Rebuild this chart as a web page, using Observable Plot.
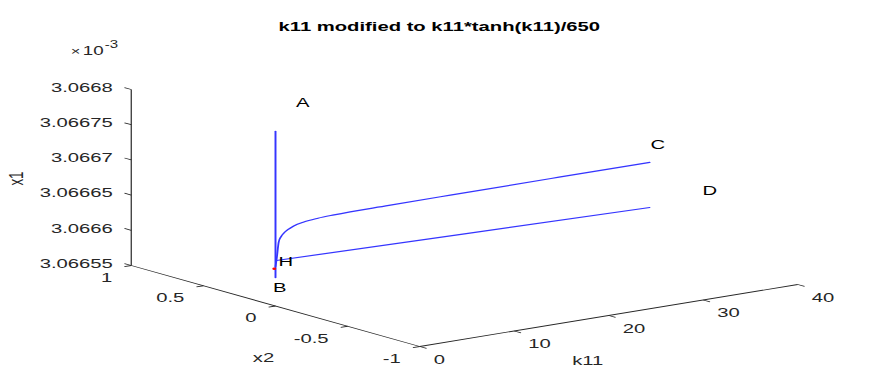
<!DOCTYPE html>
<html>
<head>
<meta charset="utf-8">
<script src="https://cdn.jsdelivr.net/npm/d3@7"></script>
<script src="https://cdn.jsdelivr.net/npm/@observablehq/plot@0.6"></script>
<style>
html, body { margin: 0; padding: 0; background: #fff; }
#chart svg { display: block; }
</style>
</head>
<body>
<div id="chart"></div>
<script>
// ---------- data ----------
const titleText = "k11 modified to k11*tanh(k11)/650";
const k11Domain = [0, 40];
const x2Domain = [-1, 1];
const x1Domain = [3.06655, 3.0668];           // in units of 1e-3
const k11Ticks = [0, 10, 20, 30, 40];
const k11TickLabels = ["0", "10", "20", "30", "40"];
const x2Ticks = [1, 0.5, 0, -0.5, -1];
const x2TickLabels = ["1", "0.5", "0", "-0.5", "-1"];
const x1Ticks = [3.06655, 3.0666, 3.06665, 3.0667, 3.06675, 3.0668];
const x1TickLabels = ["3.06655", "3.0666", "3.06665", "3.0667", "3.06675", "3.0668"];
const axisNames = ["k11", "x2", "x1"];
const exponentBase = "10";
const exponentPower = "-3";

// branch A–B (vertical)
const branchAB_k11 = [0, 0];
const branchAB_x2 = [0, 0];
const branchAB_x1 = [3.0667979, 3.0665905];

// branch towards C
const branchC_k11 = [0, 0.13, 0.34, 0.6, 0.87, 1.3, 1.93, 3.0, 4.5, 6.2, 12, 18.5, 30, 39.6];
const branchC_x2  = [0, 0, 0, 0, 0, 0, 0, 0, 0, 0, 0, 0, 0, 0];
const branchC_x1  = [3.0666061, 3.0666172, 3.0666400, 3.0666475, 3.0666515, 3.0666555, 3.0666595,
                     3.0666628, 3.0666648, 3.0666658, 3.0666665, 3.0666668, 3.0666669, 3.0666668];

// branch H–D
const branchD_k11 = [0.1, 20, 39.6];
const branchD_x2  = [0, 0, 0];
const branchD_x1  = [3.0666144, 3.0666085, 3.0666027];

// special point H
const hopfK11 = [-0.13];
const hopfX2 = [0];
const hopfX1 = [3.0666033];

// point labels
const labelNames = ["A", "B", "C", "D", "H"];
const labelK11 = [2.88, 0.45, 40.45, 45.95, 1.085];
const labelX2 = [0, 0, 0, 0, 0];
const labelX1 = [3.0668327, 3.0665753, 3.0666903, 3.0666129, 3.0666108];

// ---------- 3-D view ----------
const S = 1.5;               // horizontal stretch of the original figure
const W = 877 / S, H = 388;
const view = {k11: [378, 62], x2: [-288.5, 81], x1: [0, 176]};
const norm = (v, d) => (v - d[0]) / (d[1] - d[0]);
function proj(k, x2, x1) {
  const kn = norm(k, k11Domain), xn = norm(x2, x2Domain), zn = norm(x1, x1Domain);
  return {
    u: view.k11[0] * kn + view.x2[0] * xn + view.x1[0] * zn,
    v: view.k11[1] * kn + view.x2[1] * xn + view.x1[1] * zn
  };
}
const series = (ks, xs, zs, name) => ks.map((k, i) => ({...proj(k, xs[i], zs[i]), name}));

const zMin = x1Domain[0], zMax = x1Domain[1];
const seg = (a, b) => { const p = proj(...a), q = proj(...b); return {u1: p.u, v1: p.v, u2: q.u, v2: q.v}; };
const axisSegs = [
  seg([k11Domain[0], x2Domain[1], zMin], [k11Domain[0], x2Domain[1], zMax]),
  seg([k11Domain[0], x2Domain[1], zMin], [k11Domain[0], x2Domain[0], zMin]),
  seg([k11Domain[0], x2Domain[0], zMin], [k11Domain[1], x2Domain[0], zMin])
];
const tickX2Len = 0.047, tickK11Len = 0.73;
const tickSegs = [
  ...x1Ticks.map(z => seg([0, 1, z], [0, 1 + tickX2Len, z])),
  ...x2Ticks.map(x => seg([0, x, zMin], [-tickK11Len, x, zMin])),
  ...k11Ticks.map(k => seg([k, -1, zMin], [k, -1 - tickX2Len, zMin]))
];
const zLabels = x1Ticks.map((z, i) => ({...proj(0, 1, z), t: x1TickLabels[i]}));
const x2Labels = x2Ticks.map((x, i) => ({...proj(0, x, zMin), t: x2TickLabels[i]}));
const kLabels = k11Ticks.map((k, i) => ({...proj(k, -1, zMin), t: k11TickLabels[i]}));
const zTop = proj(0, 1, zMax);
const zMid = proj(0, 1, (zMin + zMax) / 2);
const x2Mid = proj(0, 0, zMin);
const kMid = proj(20, -1, zMin);

const ab = series(branchAB_k11, branchAB_x2, branchAB_x1, "AB");
const bc = series(branchC_k11, branchC_x2, branchC_x1, "C");
const bd = series(branchD_k11, branchD_x2, branchD_x1, "D");
const hp = series(hopfK11, hopfX2, hopfX1, "H");
const pl = labelNames.map((n, i) => ({...proj(labelK11[i], labelX2[i], labelX1[i]), t: n}));

const ink = "#262626";
const blue = "#3535ff";
const fam = "'Liberation Sans', Arial, Helvetica, sans-serif";

const svg = Plot.plot({
  width: W, height: H,
  marginLeft: 0, marginRight: 0, marginTop: 0, marginBottom: 0,
  x: {type: "linear", domain: [-419, 458], range: [0, W], axis: null},
  y: {type: "linear", domain: [-42, 346], range: [H, 0], axis: null},
  style: {fontFamily: fam, background: "white", overflow: "visible"},
  marks: [
    Plot.link(axisSegs, {x1: "u1", y1: "v1", x2: "u2", y2: "v2", stroke: ink, strokeWidth: 0.8}),
    Plot.link(tickSegs, {x1: "u1", y1: "v1", x2: "u2", y2: "v2", stroke: ink, strokeWidth: 0.8}),
    Plot.text(zLabels, {x: "u", y: "v", text: "t", textAnchor: "end", dx: -18.5 / S, dy: -2, fontSize: 13.5, fill: ink}),
    Plot.text(x2Labels, {x: "u", y: "v", text: "t", textAnchor: "end", dx: -19 / S, dy: 12, fontSize: 13.5, fill: ink}),
    Plot.text(kLabels, {x: "u", y: "v", text: "t", textAnchor: "start", dx: 14 / S, dy: 13, fontSize: 13.5, fill: ink}),
    Plot.text([zTop], {x: "u", y: "v", text: () => "\u00d7", textAnchor: "start", dx: (70 - 130.5) / S, dy: -38.5, fontSize: 11, fill: ink}),
    Plot.text([zTop], {x: "u", y: "v", text: () => exponentBase, textAnchor: "start", dx: (82 - 130.5) / S, dy: -38.5, fontSize: 12.5, fill: ink}),
    Plot.text([zTop], {x: "u", y: "v", text: () => exponentPower, textAnchor: "start", dx: (104 - 130.5) / S, dy: -44.5, fontSize: 10, fill: ink}),
    Plot.text([zMid], {x: "u", y: "v", text: () => axisNames[2], rotate: -90, dx: -114.5 / S, dy: 1, fontSize: 13.5, fill: ink}),
    Plot.text([x2Mid], {x: "u", y: "v", text: () => axisNames[1], dx: -12 / S, dy: 51.5, fontSize: 13.5, fill: ink}),
    Plot.text([kMid], {x: "u", y: "v", text: () => axisNames[0], dx: -21 / S, dy: 45.5, fontSize: 13.5, fill: ink}),
    Plot.line(ab, {x: "u", y: "v", stroke: blue, strokeWidth: 1.3}),
    Plot.line(bc, {x: "u", y: "v", stroke: blue, strokeWidth: 1.2, curve: "monotone-x"}),
    Plot.line(bd, {x: "u", y: "v", stroke: blue, strokeWidth: 1.2}),
    Plot.dot(hp, {x: "u", y: "v", r: 1.3, fill: "red", stroke: "none"}),
    Plot.text(pl, {x: "u", y: "v", text: "t", fontSize: 13.5, fill: "#000"}),
    Plot.text([titleText], {frameAnchor: "top", dy: 20.5, fontSize: 13.5, fontWeight: "bold", fill: "#000"})
  ]
});
svg.setAttribute("width", 877);
svg.setAttribute("height", H);
svg.setAttribute("preserveAspectRatio", "none");
svg.style.width = "877px";
svg.style.height = H + "px";
svg.style.maxWidth = "none";
document.getElementById("chart").appendChild(svg);
</script>
</body>
</html>
